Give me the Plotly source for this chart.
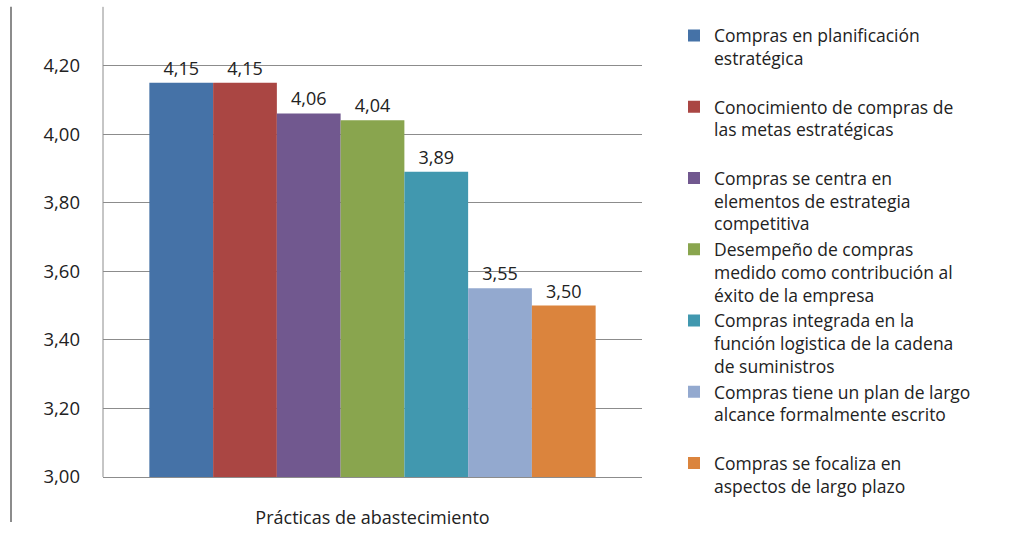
import plotly.graph_objects as go

category = "Prácticas de abastecimiento"
series_names = [
    "Compras en planificación<br>estratégica<br> ",
    "Conocimiento de compras de<br>las metas estratégicas<br> ",
    "Compras se centra en<br>elementos de estrategia<br>competitiva",
    "Desempeño de compras<br>medido como contribución al<br>éxito de la empresa",
    "Compras integrada en la<br>función logistica de la cadena<br>de suministros",
    "Compras tiene un plan de largo<br>alcance formalmente escrito<br> ",
    "Compras se focaliza en<br>aspectos de largo plazo",
]
values = [4.15, 4.15, 4.06, 4.04, 3.89, 3.55, 3.50]
labels = ["4,15", "4,15", "4,06", "4,04", "3,89", "3,55", "3,50"]
colors = ["#4572A7", "#AA4643", "#71588F", "#89A54E", "#4198AF", "#93A9CF", "#DB843D"]
y_ticks = [3.0, 3.2, 3.4, 3.6, 3.8, 4.0, 4.2]

FONT = "Open Sans"
fig = go.Figure()
for name, v, lab, c in zip(series_names, values, labels, colors):
    fig.add_trace(go.Bar(
        x=[category], y=[v], name=name, marker=dict(color=c, line=dict(width=0)),
        text=[lab], textposition="outside", cliponaxis=False,
        textfont=dict(family=FONT, size=18, color="#222"),
    ))

W, H = 1019, 533
l, r = 103, 377
bottom_px = 46
fig.update_layout(
    width=W, height=H, autosize=False,
    margin=dict(l=l, r=r, t=0, b=0, pad=0),
    barmode="group", bargap=0.172, bargroupgap=0,
    separators=",.",
    paper_bgcolor="white", plot_bgcolor="white",
    font=dict(family=FONT, size=18, color="#222"),
    showlegend=True,
    legend=dict(
        x=(674 - l) / (W - l - r), y=1 - 18 / H, xanchor="left", yanchor="top",
        font=dict(family=FONT, size=17.5, color="#222"),
        valign="top", itemwidth=30, bgcolor="rgba(0,0,0,0)",
    ),
    xaxis=dict(
        showline=True, linecolor="#8c8c8c", linewidth=1, mirror=False,
        showgrid=False, ticks="", ticklabelstandoff=24,
        tickfont=dict(family=FONT, size=18, color="#222"),
    ),
    yaxis=dict(
        domain=[bottom_px / H, 1],
        range=[3.0, 4.391], tickvals=y_ticks, tickformat=".2f",
        showline=False, showgrid=True, gridcolor="#8c8c8c", gridwidth=1,
        ticks="", ticklabelstandoff=22, zeroline=False,
        tickfont=dict(family=FONT, size=18.5, color="#222"),
    ),
    shapes=[
        dict(type="line", xref="paper", yref="paper",
             x0=-(l - 11) / (W - l - r), x1=-(l - 11) / (W - l - r),
             y0=0, y1=1 - 7 / H,
             line=dict(color="#8c8c8c", width=2)),
        dict(type="line", xref="paper", yref="paper",
             x0=0, x1=0, y0=bottom_px / H, y1=1 - 7 / H,
             line=dict(color="#8c8c8c", width=1)),
    ],
)
fig.write_html("out.html")
